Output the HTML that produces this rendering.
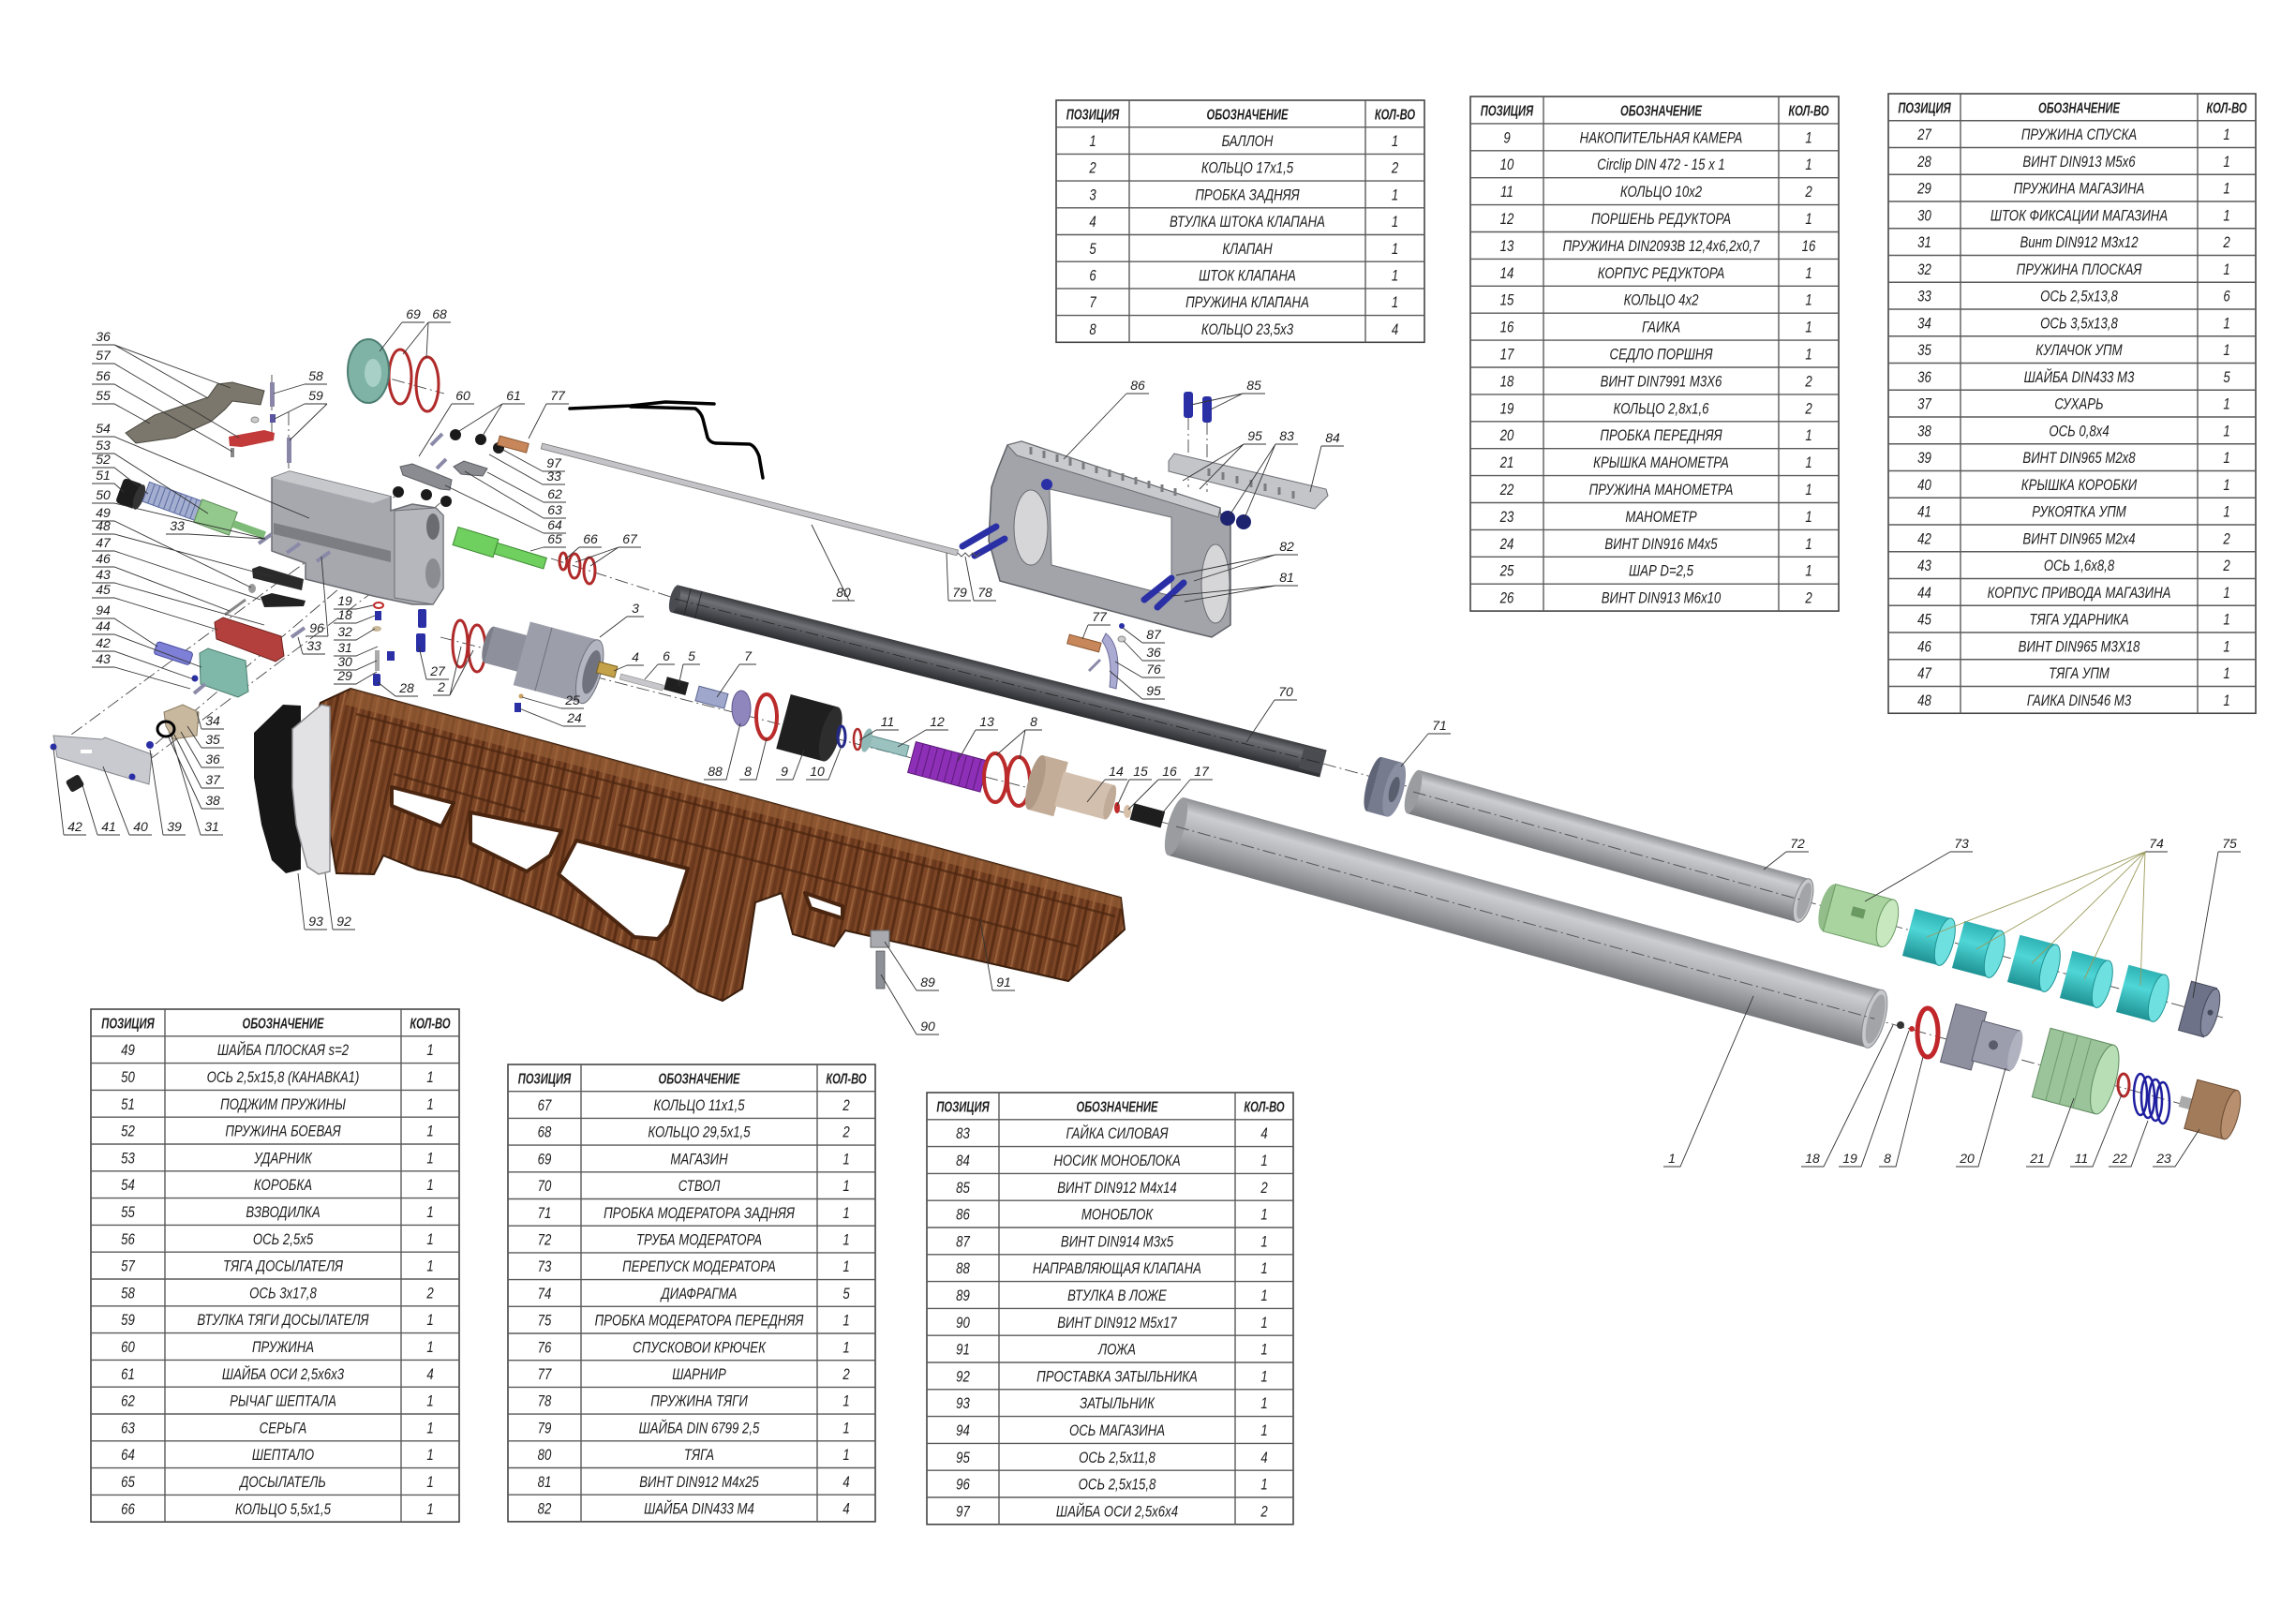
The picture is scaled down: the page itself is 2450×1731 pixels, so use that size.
<!DOCTYPE html>
<html><head><meta charset="utf-8"><style>
html,body{margin:0;padding:0;background:#fff}
svg{display:block}
text{font-family:"Liberation Sans","DejaVu Sans",sans-serif;font-style:italic;fill:#1e1e1e}
.tb text{text-anchor:middle;font-size:16.5px}
.tb .h text{font-weight:bold;font-size:16px}
.lb text{font-size:14px;text-anchor:middle}
</style></head><body>
<svg width="2450" height="1731" viewBox="0 0 2450 1731" xmlns="http://www.w3.org/2000/svg">
<defs>
<linearGradient id="tubeG" x1="0" y1="0" x2="0" y2="1"><stop offset="0" stop-color="#8d8f93"/><stop offset=".22" stop-color="#cbcdd0"/><stop offset=".55" stop-color="#aeb0b4"/><stop offset="1" stop-color="#77797d"/></linearGradient>
<linearGradient id="barG" x1="0" y1="0" x2="0" y2="1"><stop offset="0" stop-color="#3a3b3f"/><stop offset=".3" stop-color="#707176"/><stop offset="1" stop-color="#2c2d31"/></linearGradient>
<linearGradient id="cyG" x1="0" y1="0" x2="0" y2="1"><stop offset="0" stop-color="#2fb3b5"/><stop offset=".4" stop-color="#4fd6d6"/><stop offset="1" stop-color="#1f9294"/></linearGradient>
<pattern id="wood" patternUnits="userSpaceOnUse" width="18" height="60" patternTransform="rotate(12)">
<rect width="18" height="60" fill="#7b4526"/><rect x="2" width="3" height="60" fill="#5a2e15"/><rect x="9" width="2" height="60" fill="#98613a"/><rect x="13" width="4" height="60" fill="#6a391d"/>
</pattern>
</defs>
<rect width="2450" height="1731" fill="#fff"/>

<!-- axis lines -->
<g stroke="#444" stroke-width="0.9" fill="none" stroke-dasharray="14 4 2 4">
<path d="M588 596L725 640"/>
<path d="M1412 815L1512 842"/>
<path d="M470 680L1250 880"/>
<path d="M1508 845L2372 1086"/>
<path d="M1255 882L2385 1194"/>
<path d="M372 392L474 420"/>
<path d="M57 798L421 530"/>
<path d="M166 794L473 534"/>
<path d="M139 826L440 600"/>
<path d="M290 400V470M308 440V500M1268 445V520M1288 450V525"/>
</g>

<!-- tubes -->
<g transform="translate(1255,882) rotate(15.4)">
<rect x="0" y="-32" width="773" height="64" fill="url(#tubeG)"/>
<ellipse cx="0" cy="0" rx="9" ry="32" fill="#9a9ca0"/>
<ellipse cx="773" cy="0" rx="11" ry="32" fill="#c6c8cb" stroke="#85878b"/>
<ellipse cx="774" cy="0" rx="8" ry="27" fill="#a2a4a8"/>
<line x1="0" y1="0" x2="773" y2="0" stroke="#555" stroke-width="1" stroke-dasharray="14 4 2 4"/>
</g>
<g transform="translate(1508,845) rotate(15.58)">
<rect x="0" y="-24" width="432" height="48" fill="url(#tubeG)"/>
<ellipse cx="0" cy="0" rx="7" ry="24" fill="#9a9ca0"/>
<ellipse cx="432" cy="0" rx="9" ry="24" fill="#c6c8cb" stroke="#85878b"/>
<ellipse cx="433" cy="0" rx="6" ry="20" fill="#a2a4a8"/>
<line x1="0" y1="0" x2="432" y2="0" stroke="#555" stroke-width="1" stroke-dasharray="14 4 2 4"/>
</g>
<!-- barrel -->
<g transform="translate(720,639) rotate(14.27)">
<rect x="0" y="-15" width="714" height="30" fill="url(#barG)"/>
<ellipse cx="0" cy="0" rx="5" ry="15" fill="#4a4b50"/>
<line x1="14" y1="-15" x2="14" y2="15" stroke="#2a2a2e"/><line x1="26" y1="-15" x2="26" y2="15" stroke="#2a2a2e"/>
<rect x="690" y="-11" width="24" height="22" fill="#4a4b50"/>
<line x1="0" y1="0" x2="714" y2="0" stroke="#222" stroke-width=".8" stroke-dasharray="14 4 2 4"/>
</g>
<!-- rod 80 -->
<g transform="translate(578,476) rotate(14.4)"><rect x="0" y="-3" width="458" height="6" fill="#c4c4c8" stroke="#777" stroke-width=".8"/></g>
<!-- part 71 -->
<g transform="translate(1478,840) rotate(15)">
<ellipse cx="-12" cy="0" rx="8" ry="30" fill="#5f6476"/><rect x="-12" y="-30" width="22" height="60" fill="#767b8e"/><ellipse cx="10" cy="0" rx="10" ry="30" fill="#8a8fa2"/><ellipse cx="10" cy="0" rx="5" ry="14" fill="#5a5f70"/>
</g>

<!-- scribble -->
<path d="M608 436L673 433L710 429L762 431M673 434L742 436Q748 440 750 447L755 467Q758 473 765 473L800 474Q806 476 810 487L814 510" stroke="#000" stroke-width="3.5" fill="none" stroke-linecap="round" stroke-linejoin="round"/>

<!-- stock -->
<polygon points="374,735 1196,958 1200,992 1140,1047 902,993 890,1010 846,997 834,953 806,963 792,1055 771,1068 745,1058 700,1025 590,977 490,937 446,928 409,913 399,933 359,932 334,777 342,750" fill="url(#wood)" stroke="#3b1e0c" stroke-width="2"/>
<polygon points="374,735 1196,958 1197,970 368,752" fill="#9a6238" opacity=".6"/>
<path d="M380 762L1190 978M395 790L640 852M420 826L560 866M660 880L1150 1010" stroke="#4a250f" stroke-width="2.5" fill="none" opacity=".7"/>
<g fill="#fff" stroke="#4a250f" stroke-width="4" stroke-linejoin="round">
<polygon points="418,840 484,857 471,882 418,860"/>
<polygon points="502,867 599,887 587,913 562,930 502,900"/>
<polygon points="615,897 734,927 715,987 702,1002 677,1000 596,933"/>
<polygon points="859,953 899,967 899,980 865,969"/>
</g>
<!-- butt plate / spacer -->
<polygon points="271,782 302,752 321,753 321,928 305,932 290,918 279,880 271,830" fill="#161616"/>
<polygon points="312,778 343,752 352,754 352,930 340,933 328,925 316,880 312,840" fill="#e2e2e4" stroke="#8a8a8e" stroke-width="1.5"/>
<!-- 89 90 -->
<rect x="929" y="993" width="20" height="18" fill="#a9aab0" stroke="#666"/>
<rect x="935" y="1015" width="9" height="40" fill="#8e9098" stroke="#555" stroke-width=".8"/>

<!-- receiver -->
<polygon points="290,510 309,503 417,530 417,545 440,538 465,542 473,550 473,628 462,645 440,645 398,636 326,618 326,601 290,588" fill="#a6a8ae" stroke="#6a6c72" stroke-width="1.5"/>
<polygon points="290,510 309,503 417,530 398,537" fill="#c6c8cc"/>
<polygon points="292,558 417,588 417,600 292,570" fill="#7c7e84"/>
<polygon points="421,545 465,542 473,550 473,628 462,645 421,638" fill="#b5b7bc" stroke="#6a6c72"/>
<ellipse cx="462" cy="562" rx="7" ry="14" fill="#6a6c72"/><ellipse cx="462" cy="612" rx="8" ry="16" fill="#8a8c92"/>
<!-- left mechanism parts -->
<polygon points="134,462 165,443 222,424 232,410 248,408 282,417 278,432 248,428 240,437 225,450 187,467 145,473" fill="#7b776c" stroke="#4a4740"/>
<polygon points="244,466 282,459 293,462 292,470 258,477 245,476" fill="#c23a3a"/>
<rect x="288" y="408" width="5" height="26" fill="#8a86a8"/><rect x="288" y="442" width="6" height="9" fill="#5a56a0"/><ellipse cx="272" cy="448" rx="4" ry="3" fill="#ccc" stroke="#888"/>
<rect x="306" y="467" width="5" height="27" fill="#8a86a8"/><rect x="246" y="478" width="4" height="10" fill="#888"/>
<g transform="translate(139,527) rotate(20)"><rect x="-12" y="-14" width="22" height="28" rx="4" fill="#1c1c1c"/><ellipse cx="10" cy="0" rx="5" ry="14" fill="#333"/></g>
<g transform="translate(184,535) rotate(20)"><rect x="-30" y="-11" width="60" height="22" fill="#a4aed0" stroke="#5a6aa0"/><path d="M-24 -11V11M-18 -11V11M-12 -11V11M-6 -11V11M0 -11V11M6 -11V11M12 -11V11M18 -11V11M24 -11V11" stroke="#5a6aa0"/></g>
<g transform="translate(230,552) rotate(20)"><rect x="-20" y="-13" width="40" height="26" fill="#93c98c" stroke="#5e8c58"/><rect x="20" y="-4" width="36" height="8" fill="#7fbb78"/></g>
<g transform="translate(486,572) rotate(17)"><rect x="0" y="-10" width="45" height="20" fill="#6fcf5f" stroke="#3e8a33"/><rect x="45" y="-6" width="55" height="12" fill="#6fcf5f" stroke="#3e8a33"/></g>
<g fill="none" stroke="#b02a2a" stroke-width="3"><ellipse cx="601" cy="599" rx="4" ry="9"/><ellipse cx="613" cy="604" rx="6" ry="13"/><ellipse cx="629" cy="609" rx="6" ry="14"/>
<ellipse cx="427" cy="402" rx="12" ry="29"/><ellipse cx="456" cy="410" rx="12" ry="29"/>
<ellipse cx="491" cy="687" rx="8" ry="25"/><ellipse cx="509" cy="692" rx="9" ry="25"/></g>
<ellipse cx="393" cy="396" rx="22" ry="34" fill="#7fb3a6" stroke="#4d7d72" stroke-width="2"/><ellipse cx="398" cy="398" rx="9" ry="15" fill="#a8d0c6"/>
<polygon points="269,607 277,604 324,618 322,630 270,617" fill="#2a2a2a"/>
<polygon points="278,637 290,633 326,641 324,647 282,648" fill="#222"/>
<ellipse cx="269" cy="628" rx="4" ry="5" fill="#999"/>
<line x1="240" y1="656" x2="262" y2="640" stroke="#888" stroke-width="3"/>
<polygon points="229,664 238,659 300,679 303,700 294,706 231,682" fill="#b3403c" stroke="#6e1f1c"/>
<g transform="translate(166,691) rotate(18)"><rect x="0" y="-7" width="40" height="14" rx="3" fill="#7d80d6" stroke="#4a4da0"/></g>
<polygon points="213,697 222,692 262,705 265,738 254,744 214,730" fill="#7fb7a8" stroke="#4a7d6e"/>
<polygon points="57,785 109,789 112,787 162,805 159,837 61,808" fill="#c9cacf" stroke="#85878c"/>
<rect x="86" y="800" width="12" height="4" fill="#fff"/>
<g transform="translate(80,836) rotate(-30)"><rect x="-8" y="-7" width="16" height="14" rx="3" fill="#222"/></g>
<polygon points="175,760 195,752 212,760 210,785 185,789 177,775" fill="#c8b89e" stroke="#8a7a60"/>
<ellipse cx="177" cy="778" rx="9" ry="8" fill="none" stroke="#000" stroke-width="3"/>
<g fill="#2a2fa6"><circle cx="57" cy="797" r="3.5"/><circle cx="160" cy="795" r="4"/><circle cx="141" cy="829" r="3.5"/><circle cx="208" cy="724" r="3.5"/>
<rect x="446" y="650" width="9" height="20" rx="2"/><rect x="444" y="676" width="10" height="20" rx="2"/><rect x="413" y="695" width="8" height="10"/><rect x="398" y="719" width="8" height="13" rx="2"/><rect x="400" y="652" width="7" height="10"/><rect x="549" y="750" width="7" height="10"/></g>
<ellipse cx="404" cy="646" rx="5" ry="3" fill="none" stroke="#c02a2a" stroke-width="2"/>
<ellipse cx="402" cy="671" rx="5" ry="3" fill="#c9b89a"/><rect x="400" y="694" width="5" height="22" fill="#aaa"/><circle cx="556" cy="743" r="2.5" fill="#c8a060"/>
<g stroke="#8a8aa8" stroke-width="4"><line x1="276" y1="580" x2="290" y2="570"/><line x1="306" y1="590" x2="320" y2="580"/><line x1="338" y1="599" x2="352" y2="589"/><line x1="311" y1="680" x2="325" y2="670"/><line x1="207" y1="740" x2="219" y2="730"/><line x1="460" y1="475" x2="472" y2="463"/><line x1="466" y1="500" x2="476" y2="490"/></g>
<g fill="#1a1a1a"><circle cx="486" cy="464" r="6"/><circle cx="513" cy="469" r="6"/><circle cx="532" cy="478" r="6"/><circle cx="425" cy="525" r="6"/><circle cx="455" cy="528" r="6"/><circle cx="476" cy="535" r="6"/></g>
<polygon points="427,498 440,495 482,512 480,523 470,522 430,507" fill="#8a8c92" stroke="#5a5c62"/>
<polygon points="484,498 495,492 520,500 515,508 492,506" fill="#8a8c92" stroke="#5a5c62"/>
<g transform="translate(532,470) rotate(15)"><rect x="0" y="-5" width="32" height="10" fill="#c8875a" stroke="#8a5530"/></g>

<!-- middle parts -->
<g transform="translate(522,688) rotate(15)"><ellipse cx="0" cy="0" rx="6" ry="20" fill="#7c7e8a"/><rect x="0" y="-20" width="40" height="40" fill="#8e909c"/><rect x="36" y="-35" width="75" height="70" fill="#9c9eaa"/><line x1="60" y1="-35" x2="60" y2="35" stroke="#6f717c"/><ellipse cx="111" cy="0" rx="12" ry="35" fill="#b3b5c0" stroke="#6f717c"/><ellipse cx="113" cy="0" rx="8" ry="24" fill="#70727e"/></g>
<g transform="translate(638,712) rotate(15)"><rect x="0" y="-6" width="20" height="12" fill="#c4a24a" stroke="#7a6020"/></g>
<g transform="translate(662,722) rotate(15)"><rect x="0" y="-3" width="47" height="6" fill="#c8c8cc" stroke="#888" stroke-width=".6"/></g>
<g transform="translate(710,729) rotate(15)"><rect x="0" y="-7" width="24" height="14" fill="#202020"/></g>
<g transform="translate(744,740) rotate(15)"><rect x="0" y="-8" width="32" height="16" fill="#9fa8cc" stroke="#5a648f"/></g>
<ellipse cx="791" cy="756" rx="10" ry="19" fill="#8f86bd" stroke="#5e558a"/>
<ellipse cx="818" cy="765" rx="11" ry="24" fill="none" stroke="#bb2b2b" stroke-width="4"/>
<g transform="translate(836,770) rotate(15)"><rect x="0" y="-30" width="52" height="60" fill="#1f1f1f"/><ellipse cx="52" cy="0" rx="10" ry="30" fill="#2d2d2d"/></g>
<ellipse cx="898" cy="786" rx="4" ry="11" fill="none" stroke="#22288a" stroke-width="3"/>
<ellipse cx="915" cy="789" rx="4" ry="11" fill="none" stroke="#b02a2a" stroke-width="2.5"/>
<g transform="translate(925,790) rotate(15)"><rect x="0" y="-6" width="45" height="12" fill="#9cc2c0" stroke="#5a8a88"/><ellipse cx="0" cy="0" rx="5" ry="13" fill="#8fb9b6"/></g>
<g transform="translate(973,808) rotate(15)"><rect x="0" y="-17" width="80" height="34" fill="#8e2fb8" stroke="#5b1a78"/><path d="M8 -17V17M16 -17V17M24 -17V17M32 -17V17M40 -17V17M48 -17V17M56 -17V17M64 -17V17M72 -17V17" stroke="#5b1a78"/></g>
<ellipse cx="1062" cy="830" rx="12" ry="26" fill="none" stroke="#bb2b2b" stroke-width="4"/>
<ellipse cx="1087" cy="834" rx="12" ry="26" fill="none" stroke="#bb2b2b" stroke-width="4"/>
<g transform="translate(1105,835) rotate(15)"><rect x="0" y="-30" width="28" height="60" fill="#c4ad98"/><ellipse cx="0" cy="0" rx="8" ry="30" fill="#b09a86"/><rect x="26" y="-19" width="56" height="38" fill="#d2bfad"/><ellipse cx="82" cy="0" rx="5" ry="19" fill="#c0ab98"/></g>
<ellipse cx="1192" cy="862" rx="3" ry="6" fill="#c02a2a"/><ellipse cx="1203" cy="866" rx="4" ry="7" fill="#d7c0a8"/>
<g transform="translate(1208,866) rotate(15)"><rect x="0" y="-9" width="34" height="18" fill="#1e1e1e"/></g>

<!-- monoblock -->
<polygon points="1075,475 1090,471 1302,542 1302,548 1313,557 1313,667 1293,680 1260,672 1067,620 1055,577 1058,520 1065,500" fill="#a2a4aa" stroke="#5e6066" stroke-width="1.5"/>
<polygon points="1120,522 1250,552 1250,636 1122,603" fill="#fff" stroke="#6a6c72"/>
<polygon points="1075,475 1090,471 1302,542 1300,552 1085,486" fill="#c9cacd" stroke="#6a6c72"/>
<path d="M1100 477v8M1114 481v8M1128 485v8M1142 489v8M1156 493v8M1170 497v8M1184 501v8M1198 505v8M1212 509v8M1226 513v8M1240 517v8M1254 521v8" stroke="#7a7c80" stroke-width="3"/>
<ellipse cx="1100" cy="563" rx="18" ry="40" fill="#d6d6d8" stroke="#6a6c72"/>
<ellipse cx="1297" cy="623" rx="15" ry="42" fill="#d6d6d8" stroke="#6a6c72"/>
<polygon points="1247,492 1253,484 1415,522 1417,529 1403,543 1247,503" fill="#c4c5c9" stroke="#6a6c72"/>
<path d="M1290 500v8M1305 504v8M1320 508v8M1335 512v8M1350 516v8M1365 520v8M1380 524v8" stroke="#7a7c80" stroke-width="3"/>
<g fill="#2a2fa6"><rect x="1263" y="418" width="10" height="28" rx="3"/><rect x="1283" y="423" width="10" height="28" rx="3"/><circle cx="1117" cy="517" r="6"/></g>
<g stroke="#2a2fa6" stroke-width="7" stroke-linecap="round"><line x1="1027" y1="583" x2="1063" y2="562"/><line x1="1040" y1="593" x2="1072" y2="575"/><line x1="1221" y1="640" x2="1250" y2="617"/><line x1="1235" y1="648" x2="1263" y2="622"/></g>
<g fill="#1e2370"><circle cx="1310" cy="553" r="8"/><circle cx="1327" cy="557" r="8"/></g>
<path d="M1022 590l4 4l4 -4l4 4l4 -4l4 4l4 -4" stroke="#555" fill="none"/>
<g transform="translate(1140,682) rotate(15)"><rect x="0" y="-5" width="35" height="10" fill="#c8875a" stroke="#8a5530"/></g>
<path d="M1180 676Q1198 690 1191 735L1184 733Q1188 700 1176 684Z" fill="#aaaad2" stroke="#6a6a98"/>
<circle cx="1197" cy="668" r="3" fill="#2a2fa6"/><ellipse cx="1197" cy="682" rx="4" ry="3" fill="#ccc" stroke="#888"/>
<line x1="1162" y1="716" x2="1174" y2="704" stroke="#8a8aa8" stroke-width="3"/>

<!-- right parts -->
<g transform="translate(1983,977) rotate(15)"><ellipse cx="-32" cy="0" rx="10" ry="26" fill="#93bd8b"/><rect x="-32" y="-26" width="64" height="52" fill="#a9d4a0" stroke="#6a9a62"/><ellipse cx="32" cy="0" rx="10" ry="26" fill="#c8e8c0" stroke="#6a9a62"/><rect x="-8" y="-8" width="14" height="10" fill="#6a9a62"/></g>
<g transform="translate(2056,1000) rotate(15)"><rect x="-20" y="-26" width="40" height="52" fill="url(#cyG)"/><ellipse cx="20" cy="0" rx="9" ry="26" fill="#6fe0e0" stroke="#1f9294"/></g>
<g transform="translate(2109,1013) rotate(15)"><rect x="-20" y="-26" width="40" height="52" fill="url(#cyG)"/><ellipse cx="20" cy="0" rx="9" ry="26" fill="#6fe0e0" stroke="#1f9294"/></g>
<g transform="translate(2168,1028) rotate(15)"><rect x="-20" y="-26" width="40" height="52" fill="url(#cyG)"/><ellipse cx="20" cy="0" rx="9" ry="26" fill="#6fe0e0" stroke="#1f9294"/></g>
<g transform="translate(2224,1045) rotate(15)"><rect x="-20" y="-26" width="40" height="52" fill="url(#cyG)"/><ellipse cx="20" cy="0" rx="9" ry="26" fill="#6fe0e0" stroke="#1f9294"/></g>
<g transform="translate(2284,1060) rotate(15)"><rect x="-20" y="-26" width="40" height="52" fill="url(#cyG)"/><ellipse cx="20" cy="0" rx="9" ry="26" fill="#6fe0e0" stroke="#1f9294"/></g>
<g transform="translate(2345,1077) rotate(15)"><rect x="-14" y="-27" width="28" height="54" fill="#6e7288" stroke="#44485a"/><ellipse cx="14" cy="0" rx="8" ry="26" fill="#858aa0" stroke="#44485a"/><circle cx="14" cy="0" r="3" fill="#44485a"/></g>
<ellipse cx="2057" cy="1102" rx="11" ry="26" fill="none" stroke="#c0262a" stroke-width="5"/>
<g transform="translate(2100,1108) rotate(15)"><rect x="-22" y="-32" width="34" height="64" fill="#8e90a0" stroke="#5a5c6a"/><rect x="10" y="-22" width="42" height="44" fill="#9c9eae" stroke="#5a5c6a"/><ellipse cx="52" cy="0" rx="6" ry="22" fill="#b0b2c0"/><circle cx="28" cy="0" r="5" fill="#5a5c6a"/></g>
<g transform="translate(2212,1143) rotate(15)"><rect x="-35" y="-38" width="70" height="76" fill="#9bc49a" stroke="#5f8a5e"/><path d="M-20 -38V38M-5 -38V38M10 -38V38" stroke="#6f9a6e"/><ellipse cx="35" cy="0" rx="12" ry="38" fill="#b8deb6" stroke="#5f8a5e"/></g>
<ellipse cx="2266" cy="1158" rx="6" ry="12" fill="none" stroke="#b02a2a" stroke-width="3"/>
<g fill="none" stroke="#1f1fa0" stroke-width="2.5"><ellipse cx="2284" cy="1168" rx="7" ry="22"/><ellipse cx="2292" cy="1171" rx="7" ry="22"/><ellipse cx="2300" cy="1174" rx="7" ry="22"/><ellipse cx="2308" cy="1177" rx="7" ry="22"/></g>
<g transform="translate(2359,1184) rotate(15)"><rect x="-34" y="-6" width="14" height="12" fill="#aaa"/><rect x="-22" y="-27" width="44" height="54" fill="#a27b5a" stroke="#6a4a30"/><ellipse cx="22" cy="0" rx="8" ry="27" fill="#b89070" stroke="#6a4a30"/></g>
<circle cx="2028" cy="1094" r="4" fill="#333"/><circle cx="2040" cy="1098" r="3" fill="#c02a2a"/>

<!-- leader lines -->
<path fill="none" stroke="#333" stroke-width="0.9" d="M98 368H122L246 414M122 368L222 425M98 388H122L255 467M98 410H122L248 482M98 431H122L160 452M98 466H122L330 553M98 484H122L222 548M98 499H122L158 527M98 516H122L132 525M98 537H122L283 575M98 556H122L268 627M98 570H122L289 615M98 588H122L278 640M98 605H122L245 652M98 622H122L282 667M98 638H122L232 672M98 660H122L168 690M98 677H122L215 712M98 695H122L207 725M98 712H122L203 735
M68 891H92M68 891L57 798M104 891H128M104 891L88 838M138 891H162M138 891L110 818M174 891H198M174 891L160 800M214 891H238M214 891L183 786
M215 778H239M215 778L210 760M215 798H239M215 798L200 775M215 819H239M215 819L193 781M215 841H239M215 841L186 784M215 863H239M215 863L180 787
M177 570H201L282 575M326 679H350M350 679L343 594M323 698H347M323 698L318 680
M356 650H380L398 646M356 665H380L400 657M356 683H380L400 671M356 700H380L403 690M356 715H380L402 705M356 730H380L402 717
M422 743H446M422 743L403 728M455 725H479M455 725L447 690M462 742H480M480 742L492 690M480 742L505 694
M429 344H453M429 344L405 375M457 344H481M457 344L430 378M457 344L455 382M325 410H349M325 410L292 420M325 431H349M325 431L293 447M349 431L309 470
M482 431H506M482 431L447 487M536 431H560M536 431L490 460M536 431L515 465M583 431H607M583 431L564 468
M579 503H603M579 503L533 478M579 517H603M579 517L522 485M580 536H604M580 536L520 504M580 553H604M580 553L496 503M580 569H604M580 569L475 518M580 584H604M580 584L566 588
M618 584H642M618 584L603 597M660 584H684M660 584L614 600M660 584L630 604
M669 658H687M669 658L640 680M669 710H687M669 710L655 716M702 709H720M702 709L688 725M729 709H747M729 709L724 732M789 709H807M789 709L765 744
M599 756H623M599 756L557 744M601 775H625M601 775L554 756
M751 832H775L790 772M789 832H807L818 788M828 832H846L858 800M860 832H884L898 796
M935 779H959M935 779L917 790M988 779H1012M988 779L958 797M1041 779H1065M1041 779L1022 812M1094 779H1112M1094 779L1063 806M1094 779L1088 810
M1179 832H1203M1179 832L1160 856M1205 832H1229M1205 832L1192 860M1236 832H1260M1236 832L1204 864M1270 832H1294M1270 832L1240 868
M1360 747H1384M1360 747L1330 792M1524 783H1548M1524 783L1495 818
M888 641H912M906 641L866 560M1012 641H1036M1012 641L1010 590M1039 641H1063M1039 641L1030 594
M1202 420H1226M1202 420L1135 490M1326 420H1350M1326 420L1271 432M1326 420L1292 437M1327 474H1351M1327 474L1262 513M1327 474L1280 522
M1361 474H1385M1361 474L1312 550M1361 474L1328 553M1410 476H1434M1410 476L1398 525
M1361 592H1385M1361 592L1255 614M1361 592L1274 620M1361 625H1385M1361 625L1250 636M1361 625L1264 642
M1161 667H1185M1161 667L1155 682M1219 686H1243M1219 686L1198 670M1219 705H1243M1219 705L1199 684M1219 723H1243M1219 723L1190 706M1219 746H1243M1219 746L1184 716
M325 992H349M325 992L318 932M355 992H379M355 992L347 932
M978 1057H1002M978 1057L944 1005M1059 1057H1083M1059 1057L1046 982M978 1104H1002M978 1104L940 1040
M1906 909H1930M1906 909L1882 928M2081 909H2105M2081 909L1990 962M2367 909H2391M2367 909L2340 1065M2289 909H2313
M1775 1245H1793L1871 1063M1922 1245H1946L2020 1094M1962 1245H1986L2037 1100M2005 1245H2023L2052 1128M2087 1245H2111L2140 1140M2162 1245H2186L2213 1172M2209 1245H2233L2264 1168M2250 1245H2274L2292 1196M2297 1245H2321L2347 1205"/>
<path fill="none" stroke="#9a9a5a" stroke-width="0.9" d="M2289 909L2056 1000M2289 909L2109 1013M2289 909L2168 1028M2289 909L2224 1045M2289 909L2284 1052"/>

<!-- labels -->
<g class="lb">
<text x="110" y="364">36</text><text x="110" y="384">57</text><text x="110" y="406">56</text><text x="110" y="427">55</text><text x="110" y="462">54</text><text x="110" y="480">53</text><text x="110" y="495">52</text><text x="110" y="512">51</text><text x="110" y="533">50</text><text x="110" y="552">49</text><text x="110" y="566">48</text><text x="110" y="584">47</text><text x="110" y="601">46</text><text x="110" y="618">43</text><text x="110" y="634">45</text><text x="110" y="656">94</text><text x="110" y="673">44</text><text x="110" y="691">42</text><text x="110" y="708">43</text>
<text x="80" y="887">42</text><text x="116" y="887">41</text><text x="150" y="887">40</text><text x="186" y="887">39</text><text x="226" y="887">31</text>
<text x="227" y="774">34</text><text x="227" y="794">35</text><text x="227" y="815">36</text><text x="227" y="837">37</text><text x="227" y="859">38</text>
<text x="189" y="566">33</text><text x="338" y="675">96</text><text x="335" y="694">33</text>
<text x="368" y="646">19</text><text x="368" y="661">18</text><text x="368" y="679">32</text><text x="368" y="696">31</text><text x="368" y="711">30</text><text x="368" y="726">29</text>
<text x="434" y="739">28</text><text x="467" y="721">27</text><text x="471" y="738">2</text>
<text x="441" y="340">69</text><text x="469" y="340">68</text><text x="337" y="406">58</text><text x="337" y="427">59</text><text x="494" y="427">60</text><text x="548" y="427">61</text><text x="595" y="427">77</text>
<text x="591" y="499">97</text><text x="591" y="513">33</text><text x="592" y="532">62</text><text x="592" y="549">63</text><text x="592" y="565">64</text><text x="592" y="580">65</text><text x="630" y="580">66</text><text x="672" y="580">67</text>
<text x="678" y="654">3</text><text x="678" y="706">4</text><text x="711" y="705">6</text><text x="738" y="705">5</text><text x="798" y="705">7</text>
<text x="611" y="752">25</text><text x="613" y="771">24</text>
<text x="763" y="828">88</text><text x="798" y="828">8</text><text x="837" y="828">9</text><text x="872" y="828">10</text>
<text x="947" y="775">11</text><text x="1000" y="775">12</text><text x="1053" y="775">13</text><text x="1103" y="775">8</text>
<text x="1191" y="828">14</text><text x="1217" y="828">15</text><text x="1248" y="828">16</text><text x="1282" y="828">17</text>
<text x="1372" y="743">70</text><text x="1536" y="779">71</text><text x="900" y="637">80</text><text x="1024" y="637">79</text><text x="1051" y="637">78</text>
<text x="1214" y="416">86</text><text x="1338" y="416">85</text><text x="1339" y="470">95</text><text x="1373" y="470">83</text><text x="1422" y="472">84</text>
<text x="1373" y="588">82</text><text x="1373" y="621">81</text>
<text x="1173" y="663">77</text><text x="1231" y="682">87</text><text x="1231" y="701">36</text><text x="1231" y="719">76</text><text x="1231" y="742">95</text>
<text x="337" y="988">93</text><text x="367" y="988">92</text><text x="990" y="1053">89</text><text x="1071" y="1053">91</text><text x="990" y="1100">90</text>
<text x="1918" y="905">72</text><text x="2093" y="905">73</text><text x="2301" y="905">74</text><text x="2379" y="905">75</text>
<text x="1784" y="1241">1</text><text x="1934" y="1241">18</text><text x="1974" y="1241">19</text><text x="2014" y="1241">8</text><text x="2099" y="1241">20</text><text x="2174" y="1241">21</text><text x="2221" y="1241">11</text><text x="2262" y="1241">22</text><text x="2309" y="1241">23</text>
</g>

<!-- TABLE 1 -->
<g class="tb" transform="translate(1127,107)">
<rect width="393" height="258.3" fill="none" stroke="#444" stroke-width="1.6"/>
<path d="M0 28.7H393M0 57.4H393M0 86.1H393M0 114.8H393M0 143.5H393M0 172.2H393M0 200.9H393M0 229.6H393M78 0V258.3M330 0V258.3" stroke="#5a5a5a" stroke-width="1.4"/>
<g class="h" transform="scale(.7,1)"><text x="55.7" y="20.35">ПОЗИЦИЯ</text><text x="291.4" y="20.35">ОБОЗНАЧЕНИЕ</text><text x="516.4" y="20.35">КОЛ-ВО</text></g>
<g transform="scale(.8,1)">
<text x="48.75" y="49.05">1</text><text x="255" y="49.05">БАЛЛОН</text><text x="451.9" y="49.05">1</text>
<text x="48.75" y="77.75">2</text><text x="255" y="77.75">КОЛЬЦО 17х1,5</text><text x="451.9" y="77.75">2</text>
<text x="48.75" y="106.45">3</text><text x="255" y="106.45">ПРОБКА ЗАДНЯЯ</text><text x="451.9" y="106.45">1</text>
<text x="48.75" y="135.15">4</text><text x="255" y="135.15">ВТУЛКА ШТОКА КЛАПАНА</text><text x="451.9" y="135.15">1</text>
<text x="48.75" y="163.85">5</text><text x="255" y="163.85">КЛАПАН</text><text x="451.9" y="163.85">1</text>
<text x="48.75" y="192.55">6</text><text x="255" y="192.55">ШТОК КЛАПАНА</text><text x="451.9" y="192.55">1</text>
<text x="48.75" y="221.25">7</text><text x="255" y="221.25">ПРУЖИНА КЛАПАНА</text><text x="451.9" y="221.25">1</text>
<text x="48.75" y="249.95">8</text><text x="255" y="249.95">КОЛЬЦО 23,5х3</text><text x="451.9" y="249.95">4</text>
</g></g>

<!-- TABLE 2 -->
<g class="tb" transform="translate(1569,103)">
<rect width="393" height="549.1" fill="none" stroke="#444" stroke-width="1.6"/>
<path d="M0 28.9H393M0 57.8H393M0 86.7H393M0 115.6H393M0 144.5H393M0 173.4H393M0 202.3H393M0 231.2H393M0 260.1H393M0 289H393M0 317.9H393M0 346.8H393M0 375.7H393M0 404.6H393M0 433.5H393M0 462.4H393M0 491.3H393M0 520.2H393M78 0V549.1M329 0V549.1" stroke="#5a5a5a" stroke-width="1.4"/>
<g class="h" transform="scale(.7,1)"><text x="55.7" y="20.45">ПОЗИЦИЯ</text><text x="290.7" y="20.45">ОБОЗНАЧЕНИЕ</text><text x="515.7" y="20.45">КОЛ-ВО</text></g>
<g transform="scale(.8,1)">
<text x="48.75" y="49.35">9</text><text x="254.4" y="49.35">НАКОПИТЕЛЬНАЯ КАМЕРА</text><text x="451.25" y="49.35">1</text>
<text x="48.75" y="78.25">10</text><text x="254.4" y="78.25">Circlip DIN 472 - 15 x 1</text><text x="451.25" y="78.25">1</text>
<text x="48.75" y="107.15">11</text><text x="254.4" y="107.15">КОЛЬЦО 10х2</text><text x="451.25" y="107.15">2</text>
<text x="48.75" y="136.05">12</text><text x="254.4" y="136.05">ПОРШЕНЬ РЕДУКТОРА</text><text x="451.25" y="136.05">1</text>
<text x="48.75" y="164.95">13</text><text x="254.4" y="164.95">ПРУЖИНА DIN2093B 12,4x6,2x0,7</text><text x="451.25" y="164.95">16</text>
<text x="48.75" y="193.85">14</text><text x="254.4" y="193.85">КОРПУС РЕДУКТОРА</text><text x="451.25" y="193.85">1</text>
<text x="48.75" y="222.75">15</text><text x="254.4" y="222.75">КОЛЬЦО 4х2</text><text x="451.25" y="222.75">1</text>
<text x="48.75" y="251.65">16</text><text x="254.4" y="251.65">ГАИКА</text><text x="451.25" y="251.65">1</text>
<text x="48.75" y="280.55">17</text><text x="254.4" y="280.55">СЕДЛО ПОРШНЯ</text><text x="451.25" y="280.55">1</text>
<text x="48.75" y="309.45">18</text><text x="254.4" y="309.45">ВИНТ DIN7991 M3X6</text><text x="451.25" y="309.45">2</text>
<text x="48.75" y="338.35">19</text><text x="254.4" y="338.35">КОЛЬЦО 2,8х1,6</text><text x="451.25" y="338.35">2</text>
<text x="48.75" y="367.25">20</text><text x="254.4" y="367.25">ПРОБКА ПЕРЕДНЯЯ</text><text x="451.25" y="367.25">1</text>
<text x="48.75" y="396.15">21</text><text x="254.4" y="396.15">КРЫШКА МАНОМЕТРА</text><text x="451.25" y="396.15">1</text>
<text x="48.75" y="425.05">22</text><text x="254.4" y="425.05">ПРУЖИНА МАНОМЕТРА</text><text x="451.25" y="425.05">1</text>
<text x="48.75" y="453.95">23</text><text x="254.4" y="453.95">МАНОМЕТР</text><text x="451.25" y="453.95">1</text>
<text x="48.75" y="482.85">24</text><text x="254.4" y="482.85">ВИНТ DIN916  M4х5</text><text x="451.25" y="482.85">1</text>
<text x="48.75" y="511.75">25</text><text x="254.4" y="511.75">ШАР D=2,5</text><text x="451.25" y="511.75">1</text>
<text x="48.75" y="540.65">26</text><text x="254.4" y="540.65">ВИНТ DIN913  M6х10</text><text x="451.25" y="540.65">2</text>
</g></g>

<!-- TABLE 3 -->
<g class="tb" transform="translate(2015,100)">
<rect width="392" height="661.25" fill="none" stroke="#444" stroke-width="1.6"/>
<path d="M0 28.75H392M0 57.5H392M0 86.25H392M0 115H392M0 143.75H392M0 172.5H392M0 201.25H392M0 230H392M0 258.75H392M0 287.5H392M0 316.25H392M0 345H392M0 373.75H392M0 402.5H392M0 431.25H392M0 460H392M0 488.75H392M0 517.5H392M0 546.25H392M0 575H392M0 603.75H392M0 632.5H392M77 0V661.25M330 0V661.25" stroke="#5a5a5a" stroke-width="1.4"/>
<g class="h" transform="scale(.7,1)"><text x="55" y="20.4">ПОЗИЦИЯ</text><text x="290.7" y="20.4">ОБОЗНАЧЕНИЕ</text><text x="515.7" y="20.4">КОЛ-ВО</text></g>
<g transform="scale(.8,1)">
<text x="48.1" y="49.15">27</text><text x="254.4" y="49.15">ПРУЖИНА СПУСКА</text><text x="451.25" y="49.15">1</text>
<text x="48.1" y="77.9">28</text><text x="254.4" y="77.9">ВИНТ DIN913  M5х6</text><text x="451.25" y="77.9">1</text>
<text x="48.1" y="106.65">29</text><text x="254.4" y="106.65">ПРУЖИНА МАГАЗИНА</text><text x="451.25" y="106.65">1</text>
<text x="48.1" y="135.4">30</text><text x="254.4" y="135.4">ШТОК ФИКСАЦИИ МАГАЗИНА</text><text x="451.25" y="135.4">1</text>
<text x="48.1" y="164.15">31</text><text x="254.4" y="164.15">Винт DIN912 M3х12</text><text x="451.25" y="164.15">2</text>
<text x="48.1" y="192.9">32</text><text x="254.4" y="192.9">ПРУЖИНА ПЛОСКАЯ</text><text x="451.25" y="192.9">1</text>
<text x="48.1" y="221.65">33</text><text x="254.4" y="221.65">ОСЬ 2,5х13,8</text><text x="451.25" y="221.65">6</text>
<text x="48.1" y="250.4">34</text><text x="254.4" y="250.4">ОСЬ 3,5х13,8</text><text x="451.25" y="250.4">1</text>
<text x="48.1" y="279.15">35</text><text x="254.4" y="279.15">КУЛАЧОК УПМ</text><text x="451.25" y="279.15">1</text>
<text x="48.1" y="307.9">36</text><text x="254.4" y="307.9">ШАЙБА DIN433 M3</text><text x="451.25" y="307.9">5</text>
<text x="48.1" y="336.65">37</text><text x="254.4" y="336.65">СУХАРЬ</text><text x="451.25" y="336.65">1</text>
<text x="48.1" y="365.4">38</text><text x="254.4" y="365.4">ОСЬ 0,8х4</text><text x="451.25" y="365.4">1</text>
<text x="48.1" y="394.15">39</text><text x="254.4" y="394.15">ВИНТ DIN965 M2х8</text><text x="451.25" y="394.15">1</text>
<text x="48.1" y="422.9">40</text><text x="254.4" y="422.9">КРЫШКА КОРОБКИ</text><text x="451.25" y="422.9">1</text>
<text x="48.1" y="451.65">41</text><text x="254.4" y="451.65">РУКОЯТКА УПМ</text><text x="451.25" y="451.65">1</text>
<text x="48.1" y="480.4">42</text><text x="254.4" y="480.4">ВИНТ DIN965 M2х4</text><text x="451.25" y="480.4">2</text>
<text x="48.1" y="509.15">43</text><text x="254.4" y="509.15">ОСЬ 1,6х8,8</text><text x="451.25" y="509.15">2</text>
<text x="48.1" y="537.9">44</text><text x="254.4" y="537.9">КОРПУС ПРИВОДА МАГАЗИНА</text><text x="451.25" y="537.9">1</text>
<text x="48.1" y="566.65">45</text><text x="254.4" y="566.65">ТЯГА УДАРНИКА</text><text x="451.25" y="566.65">1</text>
<text x="48.1" y="595.4">46</text><text x="254.4" y="595.4">ВИНТ DIN965 M3Х18</text><text x="451.25" y="595.4">1</text>
<text x="48.1" y="624.15">47</text><text x="254.4" y="624.15">ТЯГА УПМ</text><text x="451.25" y="624.15">1</text>
<text x="48.1" y="652.9">48</text><text x="254.4" y="652.9">ГАИКА DIN546 M3</text><text x="451.25" y="652.9">1</text>
</g></g>

<!-- TABLE 4 -->
<g class="tb" transform="translate(97,1077)">
<rect width="393" height="547.2" fill="none" stroke="#444" stroke-width="1.6"/>
<path d="M0 28.8H393M0 57.6H393M0 86.4H393M0 115.2H393M0 144H393M0 172.8H393M0 201.6H393M0 230.4H393M0 259.2H393M0 288H393M0 316.8H393M0 345.6H393M0 374.4H393M0 403.2H393M0 432H393M0 460.8H393M0 489.6H393M0 518.4H393M79 0V547.2M331 0V547.2" stroke="#5a5a5a" stroke-width="1.4"/>
<g class="h" transform="scale(.7,1)"><text x="56.4" y="20.4">ПОЗИЦИЯ</text><text x="292.9" y="20.4">ОБОЗНАЧЕНИЕ</text><text x="517.1" y="20.4">КОЛ-ВО</text></g>
<g transform="scale(.8,1)">
<text x="49.4" y="49.2">49</text><text x="256.25" y="49.2">ШАЙБА ПЛОСКАЯ s=2</text><text x="452.5" y="49.2">1</text>
<text x="49.4" y="78">50</text><text x="256.25" y="78">ОСЬ 2,5х15,8 (КАНАВКА1)</text><text x="452.5" y="78">1</text>
<text x="49.4" y="106.8">51</text><text x="256.25" y="106.8">ПОДЖИМ ПРУЖИНЫ</text><text x="452.5" y="106.8">1</text>
<text x="49.4" y="135.6">52</text><text x="256.25" y="135.6">ПРУЖИНА БОЕВАЯ</text><text x="452.5" y="135.6">1</text>
<text x="49.4" y="164.4">53</text><text x="256.25" y="164.4">УДАРНИК</text><text x="452.5" y="164.4">1</text>
<text x="49.4" y="193.2">54</text><text x="256.25" y="193.2">КОРОБКА</text><text x="452.5" y="193.2">1</text>
<text x="49.4" y="222">55</text><text x="256.25" y="222">ВЗВОДИЛКА</text><text x="452.5" y="222">1</text>
<text x="49.4" y="250.8">56</text><text x="256.25" y="250.8">ОСЬ 2,5х5</text><text x="452.5" y="250.8">1</text>
<text x="49.4" y="279.6">57</text><text x="256.25" y="279.6">ТЯГА ДОСЫЛАТЕЛЯ</text><text x="452.5" y="279.6">1</text>
<text x="49.4" y="308.4">58</text><text x="256.25" y="308.4">ОСЬ 3х17,8</text><text x="452.5" y="308.4">2</text>
<text x="49.4" y="337.2">59</text><text x="256.25" y="337.2">ВТУЛКА ТЯГИ ДОСЫЛАТЕЛЯ</text><text x="452.5" y="337.2">1</text>
<text x="49.4" y="366">60</text><text x="256.25" y="366">ПРУЖИНА</text><text x="452.5" y="366">1</text>
<text x="49.4" y="394.8">61</text><text x="256.25" y="394.8">ШАЙБА ОСИ 2,5х6х3</text><text x="452.5" y="394.8">4</text>
<text x="49.4" y="423.6">62</text><text x="256.25" y="423.6">РЫЧАГ ШЕПТАЛА</text><text x="452.5" y="423.6">1</text>
<text x="49.4" y="452.4">63</text><text x="256.25" y="452.4">СЕРЬГА</text><text x="452.5" y="452.4">1</text>
<text x="49.4" y="481.2">64</text><text x="256.25" y="481.2">ШЕПТАЛО</text><text x="452.5" y="481.2">1</text>
<text x="49.4" y="510">65</text><text x="256.25" y="510">ДОСЫЛАТЕЛЬ</text><text x="452.5" y="510">1</text>
<text x="49.4" y="538.8">66</text><text x="256.25" y="538.8">КОЛЬЦО 5,5х1,5</text><text x="452.5" y="538.8">1</text>
</g></g>

<!-- TABLE 5 -->
<g class="tb" transform="translate(542,1136)">
<rect width="392" height="487.9" fill="none" stroke="#444" stroke-width="1.6"/>
<path d="M0 28.7H392M0 57.4H392M0 86.1H392M0 114.8H392M0 143.5H392M0 172.2H392M0 200.9H392M0 229.6H392M0 258.3H392M0 287H392M0 315.7H392M0 344.4H392M0 373.1H392M0 401.8H392M0 430.5H392M0 459.2H392M78 0V487.9M330 0V487.9" stroke="#5a5a5a" stroke-width="1.4"/>
<g class="h" transform="scale(.7,1)"><text x="55.7" y="20.35">ПОЗИЦИЯ</text><text x="291.4" y="20.35">ОБОЗНАЧЕНИЕ</text><text x="515.7" y="20.35">КОЛ-ВО</text></g>
<g transform="scale(.8,1)">
<text x="48.75" y="49.05">67</text><text x="255" y="49.05">КОЛЬЦО 11х1,5</text><text x="451.25" y="49.05">2</text>
<text x="48.75" y="77.75">68</text><text x="255" y="77.75">КОЛЬЦО 29,5х1,5</text><text x="451.25" y="77.75">2</text>
<text x="48.75" y="106.45">69</text><text x="255" y="106.45">МАГАЗИН</text><text x="451.25" y="106.45">1</text>
<text x="48.75" y="135.15">70</text><text x="255" y="135.15">СТВОЛ</text><text x="451.25" y="135.15">1</text>
<text x="48.75" y="163.85">71</text><text x="255" y="163.85">ПРОБКА МОДЕРАТОРА ЗАДНЯЯ</text><text x="451.25" y="163.85">1</text>
<text x="48.75" y="192.55">72</text><text x="255" y="192.55">ТРУБА МОДЕРАТОРА</text><text x="451.25" y="192.55">1</text>
<text x="48.75" y="221.25">73</text><text x="255" y="221.25">ПЕРЕПУСК МОДЕРАТОРА</text><text x="451.25" y="221.25">1</text>
<text x="48.75" y="249.95">74</text><text x="255" y="249.95">ДИАФРАГМА</text><text x="451.25" y="249.95">5</text>
<text x="48.75" y="278.65">75</text><text x="255" y="278.65">ПРОБКА МОДЕРАТОРА ПЕРЕДНЯЯ</text><text x="451.25" y="278.65">1</text>
<text x="48.75" y="307.35">76</text><text x="255" y="307.35">СПУСКОВОИ КРЮЧЕК</text><text x="451.25" y="307.35">1</text>
<text x="48.75" y="336.05">77</text><text x="255" y="336.05">ШАРНИР</text><text x="451.25" y="336.05">2</text>
<text x="48.75" y="364.75">78</text><text x="255" y="364.75">ПРУЖИНА ТЯГИ</text><text x="451.25" y="364.75">1</text>
<text x="48.75" y="393.45">79</text><text x="255" y="393.45">ШАЙБА DIN 6799 2,5</text><text x="451.25" y="393.45">1</text>
<text x="48.75" y="422.15">80</text><text x="255" y="422.15">ТЯГА</text><text x="451.25" y="422.15">1</text>
<text x="48.75" y="450.85">81</text><text x="255" y="450.85">ВИНТ DIN912 M4х25</text><text x="451.25" y="450.85">4</text>
<text x="48.75" y="479.55">82</text><text x="255" y="479.55">ШАЙБА DIN433 M4</text><text x="451.25" y="479.55">4</text>
</g></g>

<!-- TABLE 6 -->
<g class="tb" transform="translate(989,1166)">
<rect width="391" height="460.8" fill="none" stroke="#444" stroke-width="1.6"/>
<path d="M0 28.8H391M0 57.6H391M0 86.4H391M0 115.2H391M0 144H391M0 172.8H391M0 201.6H391M0 230.4H391M0 259.2H391M0 288H391M0 316.8H391M0 345.6H391M0 374.4H391M0 403.2H391M0 432H391M77 0V460.8M329 0V460.8" stroke="#5a5a5a" stroke-width="1.4"/>
<g class="h" transform="scale(.7,1)"><text x="55" y="20.4">ПОЗИЦИЯ</text><text x="290" y="20.4">ОБОЗНАЧЕНИЕ</text><text x="514.3" y="20.4">КОЛ-ВО</text></g>
<g transform="scale(.8,1)">
<text x="48.1" y="49.2">83</text><text x="253.75" y="49.2">ГАЙКА СИЛОВАЯ</text><text x="450" y="49.2">4</text>
<text x="48.1" y="78">84</text><text x="253.75" y="78">НОСИК МОНОБЛОКА</text><text x="450" y="78">1</text>
<text x="48.1" y="106.8">85</text><text x="253.75" y="106.8">ВИНТ DIN912 M4х14</text><text x="450" y="106.8">2</text>
<text x="48.1" y="135.6">86</text><text x="253.75" y="135.6">МОНОБЛОК</text><text x="450" y="135.6">1</text>
<text x="48.1" y="164.4">87</text><text x="253.75" y="164.4">ВИНТ DIN914  M3х5</text><text x="450" y="164.4">1</text>
<text x="48.1" y="193.2">88</text><text x="253.75" y="193.2">НАПРАВЛЯЮЩАЯ КЛАПАНА</text><text x="450" y="193.2">1</text>
<text x="48.1" y="222">89</text><text x="253.75" y="222">ВТУЛКА В ЛОЖЕ</text><text x="450" y="222">1</text>
<text x="48.1" y="250.8">90</text><text x="253.75" y="250.8">ВИНТ DIN912 M5х17</text><text x="450" y="250.8">1</text>
<text x="48.1" y="279.6">91</text><text x="253.75" y="279.6">ЛОЖА</text><text x="450" y="279.6">1</text>
<text x="48.1" y="308.4">92</text><text x="253.75" y="308.4">ПРОСТАВКА ЗАТЫЛЬНИКА</text><text x="450" y="308.4">1</text>
<text x="48.1" y="337.2">93</text><text x="253.75" y="337.2">ЗАТЫЛЬНИК</text><text x="450" y="337.2">1</text>
<text x="48.1" y="366">94</text><text x="253.75" y="366">ОСЬ МАГАЗИНА</text><text x="450" y="366">1</text>
<text x="48.1" y="394.8">95</text><text x="253.75" y="394.8">ОСЬ 2,5х11,8</text><text x="450" y="394.8">4</text>
<text x="48.1" y="423.6">96</text><text x="253.75" y="423.6">ОСЬ 2,5х15,8</text><text x="450" y="423.6">1</text>
<text x="48.1" y="452.4">97</text><text x="253.75" y="452.4">ШАЙБА ОСИ 2,5х6х4</text><text x="450" y="452.4">2</text>
</g></g>
</svg>
</body></html>
